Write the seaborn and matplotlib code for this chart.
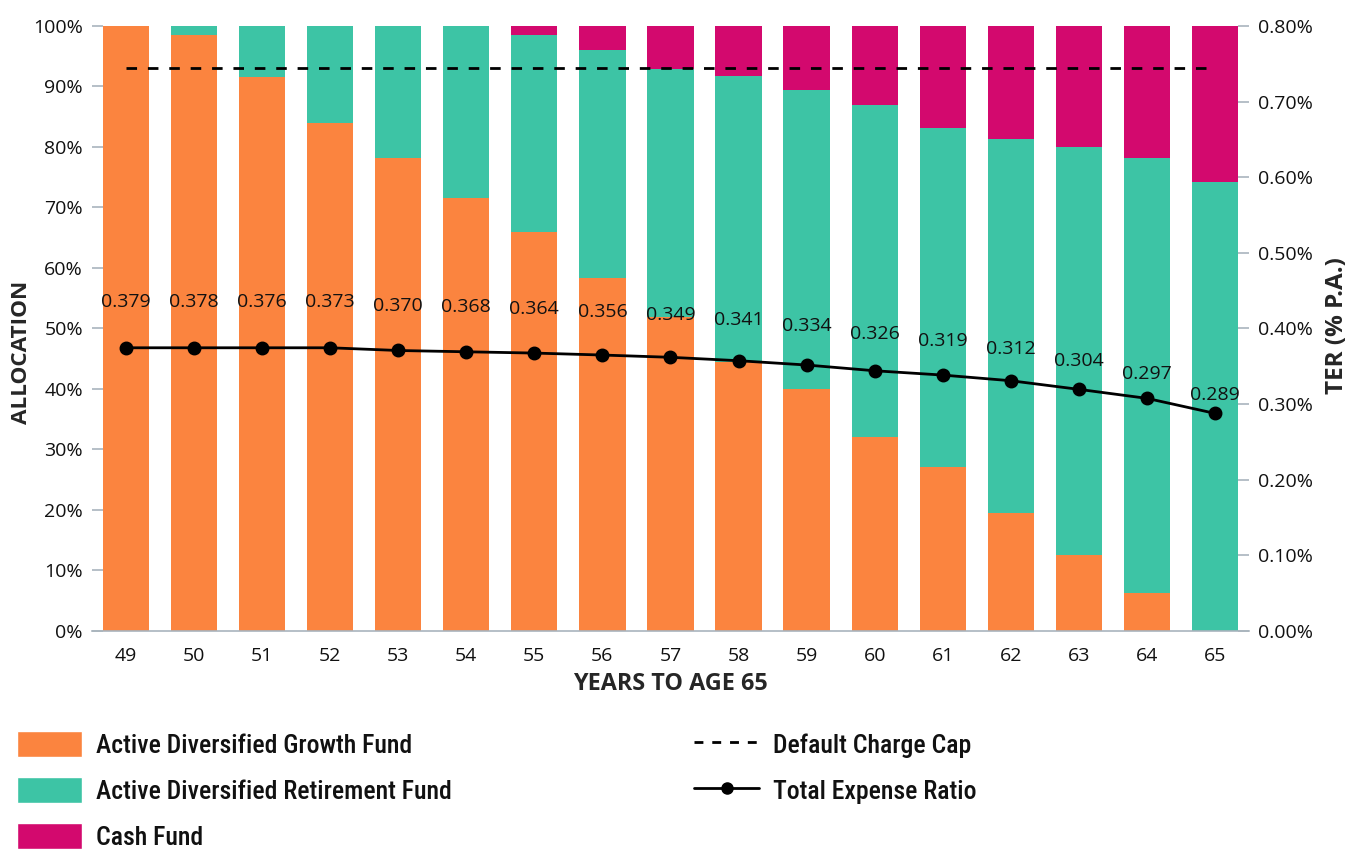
import numpy as np
import pandas as pd
import matplotlib
matplotlib.use("Agg")
import matplotlib.pyplot as plt
from matplotlib import font_manager
from matplotlib.patches import Patch
from matplotlib.lines import Line2D
import seaborn as sns

# datos
ages = ["49", "50", "51", "52", "53", "54", "55", "56", "57",
        "58", "59", "60", "61", "62", "63", "64", "65"]
growth = [100.0, 98.5, 91.6, 84.0, 78.2, 71.6, 66.0, 58.4, 51.9,
          44.4, 39.9, 32.0, 27.0, 19.5, 12.5, 6.2, 0.0]
retirement = [0.0, 1.5, 8.4, 16.0, 21.8, 28.4, 32.5, 37.6, 41.0,
              47.3, 49.5, 54.9, 56.1, 61.8, 67.5, 72.0, 74.2]
cash = [0.0, 0.0, 0.0, 0.0, 0.0, 0.0, 1.5, 4.0, 7.1,
        8.3, 10.6, 13.1, 16.9, 18.7, 20.0, 21.8, 25.8]
# etiquetas de TER tal como aparecen escritas
ter_labels = [0.379, 0.378, 0.376, 0.373, 0.370, 0.368, 0.364, 0.356, 0.349,
              0.341, 0.334, 0.326, 0.319, 0.312, 0.304, 0.297, 0.289]
ter_points = [0.3743, 0.3743, 0.3743, 0.3743, 0.3707, 0.3690, 0.3673, 0.3647,
              0.3617, 0.3572, 0.3515, 0.3439, 0.3382, 0.3307, 0.3193, 0.3074,
              0.2875]
charge_cap = 0.745

ORANGE = "#FB843F"
TEAL = "#3DC4A5"
MAGENTA = "#D3096E"
GREY = "#A9B4BD"

sns.set_style("white")
plt.rcParams["font.family"] = ["Open Sans", "DejaVu Sans"]
plt.rcParams["font.weight"] = 500
plt.rcParams["text.color"] = "#111111"
plt.rcParams["xtick.color"] = "#111111"
plt.rcParams["ytick.color"] = "#111111"

# fuente estrecha para la leyenda, si hay alguna instalada
fl = font_manager.fontManager.ttflist
names = {f.name for f in fl}
legend_font = None
for cand in ["Liberation Sans Narrow", "Roboto Condensed", "Open Sans Condensed",
             "Noto Sans Condensed", "DejaVu Sans Condensed"]:
    if cand in names:
        legend_font = {"family": [cand, "DejaVu Sans"], "size": 18.5,
                       "weight": 500}
        break
if legend_font is None:
    if any(f.name == "DejaVu Sans" and f.stretch == "condensed" for f in fl):
        legend_font = {"family": ["DejaVu Sans"], "stretch": "condensed",
                       "size": 16}
    else:
        legend_font = {"family": ["DejaVu Sans"], "size": 15}

df = pd.DataFrame({"age": ages, "growth": growth,
                   "retirement": retirement, "cash": cash})
df["top_ret"] = df["growth"] + df["retirement"]
df["top_cash"] = df["top_ret"] + df["cash"]

fig = plt.figure(figsize=(13.5, 8.49), dpi=100)
ax = fig.add_axes([0.0681, 0.2571, 0.8571, 0.7123])

# barras apiladas: se dibujan los acumulados de mayor a menor
for col, c in [("top_cash", MAGENTA), ("top_ret", TEAL), ("growth", ORANGE)]:
    sns.barplot(data=df, x="age", y=col, color=c, saturation=1,
                width=0.68, linewidth=0, ax=ax)

ax.set_ylim(0, 100)
ax.set_yticks(np.arange(0, 101, 10))
ax.set_yticklabels([f"{v}%" for v in range(0, 101, 10)])
ax.tick_params(axis="y", direction="in", length=8, width=1.2,
               color=GREY, pad=6.5, labelsize=14)
ax.tick_params(axis="x", length=0, pad=12, labelsize=14)
for s in ["top", "left", "right"]:
    ax.spines[s].set_visible(False)
ax.spines["bottom"].set_color(GREY)
ax.spines["bottom"].set_linewidth(1.2)
ax.set_xlabel("YEARS TO AGE 65", fontsize=16.8, fontweight="bold")
ax.set_ylabel("ALLOCATION", fontsize=16.2, fontweight="bold")
ax.xaxis.set_label_coords(0.5, -0.068)
ax.yaxis.set_label_coords(-0.052, 0.461)

# eje secundario: TER
ax2 = ax.twinx()
sns.pointplot(x=ages, y=ter_points, ax=ax2, color="black", markers="o",
              errorbar=None, markersize=8.5, linewidth=2)
ax2.hlines(charge_cap, 0, len(ages) - 1, colors="black",
           linestyles=(0, (3.8, 3.9)), linewidth=2)

for i, (lab, v) in enumerate(zip(ter_labels, ter_points)):
    off = (18.3 + 319 * (v - 0.2875)) / 1.389
    ax2.annotate(f"{lab:.3f}", (i, v), xytext=(0, off),
                 textcoords="offset points", ha="center", va="center",
                 fontsize=14)

ax2.set_ylim(0, 0.8)
ax2.set_yticks(np.arange(0, 0.81, 0.1))
ax2.set_yticklabels([f"{v:.2f}%" for v in np.arange(0, 0.81, 0.1)])
ax2.tick_params(axis="y", direction="in", length=8, width=1.2,
                color=GREY, pad=6.5, labelsize=14)
for s in ax2.spines.values():
    s.set_visible(False)
ax2.set_ylabel("TER (% P.A.)", fontsize=17.5, fontweight="bold")
ax2.yaxis.set_label_coords(1.066, 0.504)
ax.set_xlim(-0.5, len(ages) - 0.5)

# leyendas (medidas en píxeles convertidas a unidades de fuente)
fs_px = legend_font["size"] * 100 / 72
leg_kw = dict(loc="upper left", frameon=False, borderpad=0, borderaxespad=0,
              handlelength=65 / fs_px, handletextpad=14 / fs_px,
              handleheight=(26 / fs_px - 0.245) / 0.65,
              labelspacing=(45.5 - 26) / fs_px, prop=legend_font)

bar_handles = [Patch(facecolor=ORANGE), Patch(facecolor=TEAL),
               Patch(facecolor=MAGENTA)]
fig.legend(bar_handles,
           ["Active Diversified Growth Fund",
            "Active Diversified Retirement Fund", "Cash Fund"],
           bbox_to_anchor=(17 / 1350, 1 - 731 / 849), **leg_kw)

line_handles = [Line2D([], [], color="black", linestyle=(0, (3.2, 3.2)),
                       linewidth=2),
                Line2D([], [], color="black", marker="o", markersize=8,
                       linewidth=2)]
fig.legend(line_handles, ["Default Charge Cap", "Total Expense Ratio"],
           bbox_to_anchor=(694 / 1350, 1 - 731 / 849), **leg_kw)

fig.savefig("out.png", dpi=100)
